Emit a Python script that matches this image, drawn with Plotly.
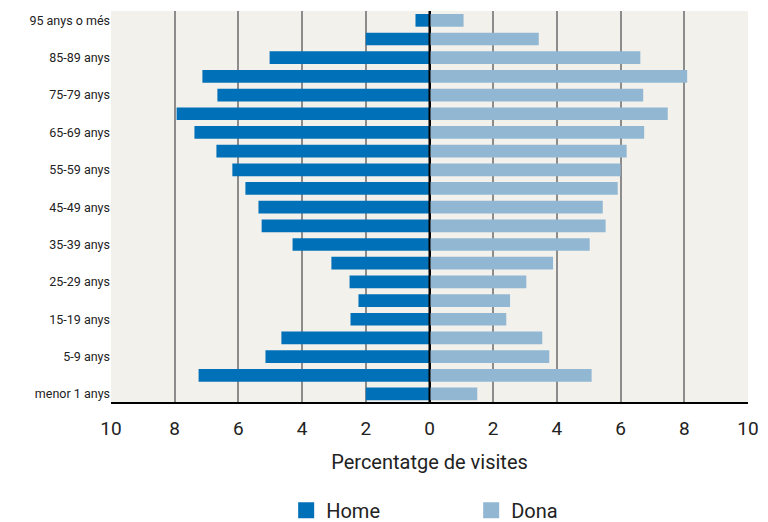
import plotly.graph_objects as go

# age groups, bottom to top
grups = ["menor 1 anys", "1-4 anys", "5-9 anys", "10-14 anys", "15-19 anys",
         "20-24 anys", "25-29 anys", "30-34 anys", "35-39 anys", "40-44 anys",
         "45-49 anys", "50-54 anys", "55-59 anys", "60-64 anys", "65-69 anys",
         "70-74 anys", "75-79 anys", "80-84 anys", "85-89 anys", "90-94 anys",
         "95 anys o més"]

# % of visits
home = [2.0, 7.25, 5.15, 4.65, 2.48, 2.23, 2.51, 3.08, 4.30, 5.27,
        5.37, 5.78, 6.19, 6.69, 7.38, 7.94, 6.66, 7.13, 5.02, 2.0, 0.44]
dona = [1.5, 5.09, 3.76, 3.54, 2.41, 2.53, 3.04, 3.88, 5.03, 5.53,
        5.44, 5.91, 6.0, 6.19, 6.74, 7.48, 6.71, 8.09, 6.62, 3.43, 1.07]

tick_vals = [-10, -8, -6, -4, -2, 0, 2, 4, 6, 8, 10]
tick_text = ["10", "8", "6", "4", "2", "0", "2", "4", "6", "8", "10"]

c_home = "#0070b8"
c_dona = "#92b7d3"
fnt = "Liberation Sans Narrow, Roboto, Noto Sans, sans-serif"

fig = go.Figure()
fig.add_trace(go.Bar(y=grups, x=[-v for v in home], orientation="h",
                     name="Home", showlegend=False,
                     marker=dict(color=c_home, line_width=0)))
fig.add_trace(go.Bar(y=grups, x=dona, orientation="h",
                     name="Dona", showlegend=False,
                     marker=dict(color=c_dona, line_width=0)))
# legend entries with big square swatches
for nm, c in [("Home", c_home), ("Dona", c_dona)]:
    fig.add_trace(go.Scatter(x=[None], y=[None], mode="markers", name=nm,
                             marker=dict(symbol="square", size=21, color=c)))

# black centre line drawn over the bars
fig.add_vline(x=0, line=dict(color="black", width=2), layer="above")

# page body has an 8px margin, so the figure is 760x514 and shifted
fig.update_layout(
    barmode="relative",
    bargap=0.32,
    width=760, height=514,
    margin=dict(l=103, r=20, t=3, b=120, autoexpand=False),
    paper_bgcolor="white",
    plot_bgcolor="#f3f1ec",
    font=dict(family=fnt, color="#222"),
    legend=dict(orientation="h", x=0.275, xanchor="left", y=-0.277, yanchor="middle",
                font=dict(size=20), entrywidth=140, itemwidth=30,
                traceorder="normal"),
    xaxis=dict(range=[-10, 10], tickvals=tick_vals, ticktext=tick_text,
               tickfont=dict(size=19), showgrid=True, gridcolor="#8c8c8c",
               gridwidth=1.5, zeroline=True, zerolinecolor="black", zerolinewidth=2,
               showline=True, linecolor="black", linewidth=2, automargin=False,
               ticks="outside", ticklen=8, tickcolor="rgba(0,0,0,0)",
               title=dict(text="Percentatge de visites", font=dict(size=20), standoff=16)),
    yaxis=dict(tickvals=grups[::2], tickfont=dict(size=12.5), showgrid=False,
               ticks="", range=[-0.43, 20.5], automargin=False),
)

fig.write_html("out.html")
